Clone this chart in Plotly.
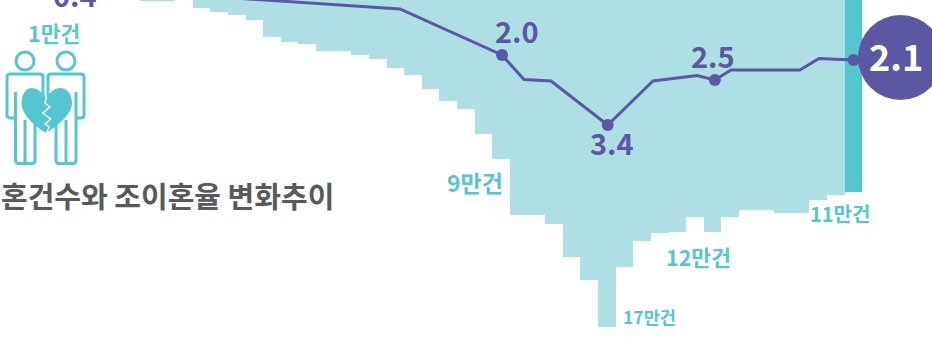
import plotly.graph_objects as go

# Annual divorce counts (unit: 10,000 cases)
bar_years = list(range(1977, 2018))
divorces = [2.02, 2.02, 1.6, 2.33, 2.51, 2.65, 2.87, 3.63, 3.86, 3.95, 4.26, 4.26, 4.44, 4.62,
            5.02, 5.34, 5.96, 6.50, 6.86, 7.98, 9.10, 11.61, 11.61, 12.02, 13.50, 14.53, 16.64,
            13.94, 12.78, 12.42, 12.38, 11.70, 12.38, 11.70, 11.39, 11.39, 11.52, 11.52,
            10.94, 10.72, 10.58]

# Crude divorce rate line
rate_years = [1973, 1981, 1991.26, 1997.05, 1998.3, 1999.83, 2003.05, 2005.62, 2008.12, 2009.13,
              2010.05, 2013.96, 2015.04, 2017]
rates = [0.4, 0.84, 1.08, 2.0, 2.49, 2.52, 3.4, 2.52, 2.41, 2.5, 2.3, 2.3, 2.07, 2.1]

# Rates that carry a dot and a number
key_years = [1997.05, 2003.05, 2009.13, 2017]
key_rates = [2.0, 3.4, 2.5, 2.1]

# Count callouts
count_labels = ["1만건", "9만건", "17만건", "12만건", "11만건"]
title_text = "혼건수와 조이혼율 변화추이"

W, H = 932, 338
TEAL, PALE, PURPLE, GREY = "#55c5d0", "#aedfe4", "#5b57a2", "#58595b"
FONT = "Noto Sans CJK KR"


def px(x):
    return x / W


def py(y):
    return 1 - y / H


def path(cmds):
    """Build an SVG path in paper units from (letter, x, y, ...) tuples in page pixels."""
    out = []
    for c in cmds:
        if c == "Z":
            out.append("Z")
            continue
        nums = c[1:]
        pts = " ".join(
            f"{px(nums[i]):.5f},{py(nums[i + 1]):.5f}" for i in range(0, len(nums), 2)
        )
        out.append(f"{c[0]} {pts}")
    return " ".join(out)


def page_shape(d, line=None, fill=None, width=0):
    s = dict(type="path", xref="paper", yref="paper", path=d, layer="above")
    s["line"] = dict(color=line or "rgba(0,0,0,0)", width=width)
    s["fillcolor"] = fill or "rgba(0,0,0,0)"
    return s


def circle(cx, cy, r, **kw):
    return dict(type="circle", xref="paper", yref="paper", layer="above",
                x0=px(cx - r), x1=px(cx + r), y0=py(cy + r), y1=py(cy - r), **kw)


fig = go.Figure()
fig.add_bar(
    x=bar_years, y=divorces, width=1.0, base=0,
    marker=dict(color=[TEAL if y == 2017 else PALE for y in bar_years], line_width=0),
    hoverinfo="skip",
)
fig.add_scatter(x=rate_years, y=rates, yaxis="y2", mode="lines",
                line=dict(color=PURPLE, width=3), hoverinfo="skip")
fig.add_scatter(x=key_years, y=key_rates, yaxis="y2", mode="markers",
                marker=dict(color=PURPLE, size=12), hoverinfo="skip")

shapes = []
# Two standing figures with a broken heart between them
stroke = dict(line=TEAL, width=3)
shapes += [circle(25, 61, 9, line=dict(color=TEAL, width=3)),
           circle(66, 61, 9, line=dict(color=TEAL, width=3))]
shapes.append(page_shape(path([
    ("M", 43, 100), ("L", 43, 77), ("Q", 43, 74, 40, 74), ("L", 10, 74), ("Q", 7, 74, 7, 77),
    ("L", 7, 115), ("Q", 7, 118, 10, 118), ("L", 15, 118)]), **stroke))
shapes.append(page_shape(path([
    ("M", 15.5, 92), ("L", 15.5, 160), ("Q", 15.5, 163.5, 19, 163.5), ("L", 32, 163.5),
    ("Q", 35, 163.5, 35, 160), ("L", 35, 120)]), **stroke))
shapes.append(page_shape(path([("M", 25, 120), ("L", 25, 163)]), **stroke))
shapes.append(page_shape(path([
    ("M", 48, 100), ("L", 48, 77), ("Q", 48, 74, 51, 74), ("L", 81, 74), ("Q", 84, 74, 84, 77),
    ("L", 84, 115), ("Q", 84, 118, 81, 118), ("L", 76, 118)]), **stroke))
shapes.append(page_shape(path([
    ("M", 76, 92), ("L", 76, 160), ("Q", 76, 163.5, 73, 163.5), ("L", 59, 163.5),
    ("Q", 56, 163.5, 56, 160), ("L", 56, 120)]), **stroke))
shapes.append(page_shape(path([("M", 66, 120), ("L", 66, 163)]), **stroke))
shapes.append(page_shape(path([
    ("M", 46, 98), ("C", 42, 92, 37, 88, 32, 88), ("C", 26, 88, 21.5, 94, 21.5, 103),
    ("C", 21.5, 115, 36, 127, 46, 133), ("C", 56, 127, 72, 115, 72, 103),
    ("C", 72, 94, 67, 88, 60, 88), ("C", 55, 88, 50, 92, 46, 98), "Z"]), fill=TEAL, width=0))
shapes.append(page_shape(path([
    ("M", 46.7, 97), ("L", 45, 103), ("L", 50, 107), ("L", 42.7, 113), ("L", 50.7, 119),
    ("L", 45, 124), ("L", 49.3, 127), ("L", 45.7, 134)]), line="white", width=1.3))
# Badge holding the latest rate
shapes.append(circle(900.5, 57.5, 42.5, fillcolor=PURPLE, line=dict(width=0)))

annotations = []


def page_text(x, y, text, size, color, weight="bold"):
    annotations.append(dict(
        xref="paper", yref="paper", x=px(x), y=py(y), text=text, showarrow=False,
        xanchor="center", yanchor="middle",
        font=dict(family=FONT, size=size, color=color, weight=weight)))


def rate_text(year, rate, dx, dy):
    annotations.append(dict(
        xref="x", yref="y2", x=year, y=rate, text=f"{rate:.1f}", showarrow=False,
        xshift=dx, yshift=dy, xanchor="center", yanchor="middle",
        font=dict(family=FONT, size=29, color=PURPLE, weight="bold")))


# The earliest rate sits above the page edge, so it is anchored to the page instead
page_text(75, -6, f"{rates[0]:.1f}", 29, PURPLE)
rate_text(1997.05, 2.0, 15, 25)
rate_text(2003.05, 3.4, 4, -17)
rate_text(2009.13, 2.5, -2, 25)
page_text(895.5, 55, "2.1", 36, "white")

page_text(54, 32, count_labels[0], 21.5, TEAL)
page_text(474.5, 181.5, count_labels[1], 23, TEAL)
page_text(649, 316.5, count_labels[2], 17.5, TEAL)
page_text(698, 256, count_labels[3], 21.5, TEAL)
page_text(840, 213, count_labels[4], 20, TEAL)
page_text(167.5, 194.5, title_text, 29, GREY)

# Both value scales share a baseline just above the page, each bar unit spanning 22.3px
# and each rate unit 50px.
fig.update_layout(
    width=W, height=H, margin=dict(l=0, r=0, t=0, b=0, pad=0),
    paper_bgcolor="white", plot_bgcolor="white", showlegend=False, bargap=0,
    xaxis=dict(range=[1968.56, 2021.455], visible=False, fixedrange=True),
    yaxis=dict(range=[17.13, 1.973], visible=False, fixedrange=True),
    yaxis2=dict(range=[7.66, 0.9], visible=False, overlaying="y", fixedrange=True),
    shapes=shapes, annotations=annotations,
)
fig.write_html("out.html", config=dict(displayModeBar=False))
